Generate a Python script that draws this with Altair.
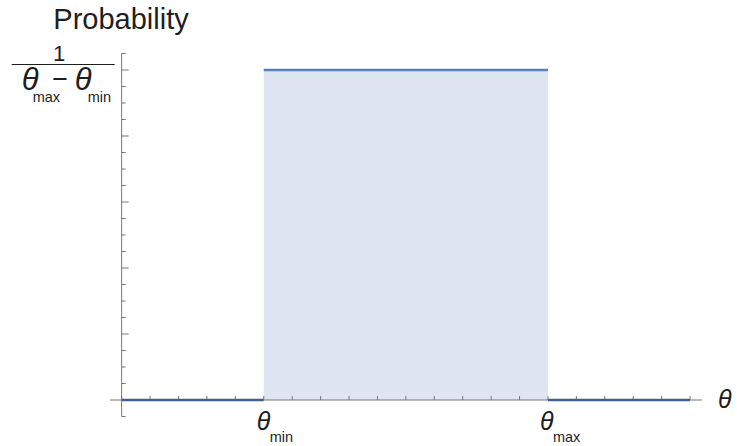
import altair as alt
import pandas as pd

# ---- data -------------------------------------------------------------
seg_start = [-5, 0, 10]        # theta_min = 0, theta_max = 10
seg_end = [0, 10, 15]
seg_density = [0, 1, 0]        # 1 == 1/(theta_max - theta_min)

x_ticks = [-5, -4, -3, -2, -1, 0, 1, 2, 3, 4, 5, 6, 7, 8, 9, 10, 11, 12, 13, 14, 15]
y_major = [0, 0.2, 0.4, 0.6, 0.8, 1.0]
y_minor = [-0.05, 0.05, 0.1, 0.15, 0.25, 0.3, 0.35, 0.45, 0.5, 0.55,
           0.65, 0.7, 0.75, 0.85, 0.9, 0.95, 1.05]

x_domain = [-5.41, 15.42]
y_domain = [-0.05, 1.05]
y_axis_x = -5

FONT = "Liberation Sans"
TXT = "#1e1e1e"
AXIS = "#777777"

xs = alt.Scale(domain=x_domain, nice=False, zero=False)
ys = alt.Scale(domain=y_domain, nice=False, zero=False)

seg_df = pd.DataFrame({"x0": seg_start, "x1": seg_end, "density": seg_density})

# ---- layers -----------------------------------------------------------
fill = alt.Chart(seg_df).transform_filter("datum.density > 0").mark_rect(
    color="#dfe6f1"
).encode(
    x=alt.X("x0:Q", scale=xs, axis=None),
    x2="x1:Q",
    y=alt.Y("density:Q", scale=ys, axis=None),
    y2=alt.Y2Datum(0),
)

x_axis = alt.Chart(pd.DataFrame({"a": [x_domain[0]], "b": [x_domain[1]]})).mark_rule(
    color=AXIS, strokeWidth=1
).encode(
    x=alt.X("a:Q", scale=xs, axis=None),
    x2="b:Q",
    y=alt.YDatum(0, scale=ys, axis=None),
)

y_axis = alt.Chart(pd.DataFrame({"a": [y_domain[0]], "b": [y_domain[1]]})).mark_rule(
    color=AXIS, strokeWidth=1
).encode(
    y=alt.Y("a:Q", scale=ys, axis=None),
    y2="b:Q",
    x=alt.XDatum(y_axis_x, scale=xs, axis=None),
)

def yticks(vals, length):
    return alt.Chart(pd.DataFrame({"v": vals})).mark_rule(
        color=AXIS, strokeWidth=1, x2Offset=length
    ).encode(
        y=alt.Y("v:Q", scale=ys, axis=None),
        x=alt.XDatum(y_axis_x, scale=xs, axis=None),
        x2=alt.X2Datum(y_axis_x),
    )

xtick = alt.Chart(pd.DataFrame({"v": x_ticks})).mark_rule(
    color=AXIS, strokeWidth=1, y2Offset=-4
).encode(
    x=alt.X("v:Q", scale=xs, axis=None),
    y=alt.YDatum(0, scale=ys, axis=None),
    y2=alt.Y2Datum(0),
)

segs = alt.Chart(seg_df).mark_rule(strokeWidth=2.6).encode(
    x=alt.X("x0:Q", scale=xs, axis=None),
    x2="x1:Q",
    y=alt.Y("density:Q", scale=ys, axis=None),
    color=alt.condition("datum.density > 0", alt.value("#5a7dbb"), alt.value("#41608f")),
)

def label(text, xv, yv, dx, dy, size, italic=False, align="left"):
    return alt.Chart(pd.DataFrame({"t": [text]})).mark_text(
        align=align, baseline="alphabetic", dx=dx, dy=dy, fontSize=size,
        font=FONT, fontStyle="italic" if italic else "normal", color=TXT,
    ).encode(
        x=alt.XDatum(xv, scale=xs, axis=None),
        y=alt.YDatum(yv, scale=ys, axis=None),
        text="t:N",
    )

frac_line = alt.Chart(pd.DataFrame({"t": ["bar"]})).mark_rule(
    color=TXT, strokeWidth=1.2, xOffset=-110, x2Offset=-7, yOffset=-5.5
).encode(
    x=alt.XDatum(y_axis_x, scale=xs, axis=None),
    x2=alt.X2Datum(y_axis_x),
    y=alt.YDatum(1, scale=ys, axis=None),
)

labels = [
    label("Probability", y_axis_x, 1, -0.6, -41.5, 29, align="center"),
    label("1", y_axis_x, 1, -62.6, -9, 22, align="center"),
    label("θ", y_axis_x, 1, -100, 19.5, 31, italic=True),
    label("max", y_axis_x, 1, -89, 32, 14.5),
    label("−", y_axis_x, 1, -61.6, 18, 27, align="center"),
    label("θ", y_axis_x, 1, -47, 19.5, 31, italic=True),
    label("min", y_axis_x, 1, -34, 32, 14.5),
    label("θ", 0, 0, -7, 30, 25, italic=True),
    label("min", 0, 0, 6, 42, 14.5),
    label("θ", 10, 0, -8, 30, 25, italic=True),
    label("max", 10, 0, 5, 42, 14.5),
    label("θ", x_domain[1], 0, 16, 8, 25, italic=True),
]

chart = alt.layer(
    fill, x_axis, y_axis, yticks(y_major, 7), yticks(y_minor, 4), xtick, segs,
    frac_line, *labels
).properties(
    width=592, height=363,
    padding={"left": 110, "top": 53.5, "right": 35, "bottom": 29.5},
    autosize="none",
    background="white",
).configure_view(strokeWidth=0)

chart.save("out.html", embed_options={"renderer": "svg", "actions": False})
